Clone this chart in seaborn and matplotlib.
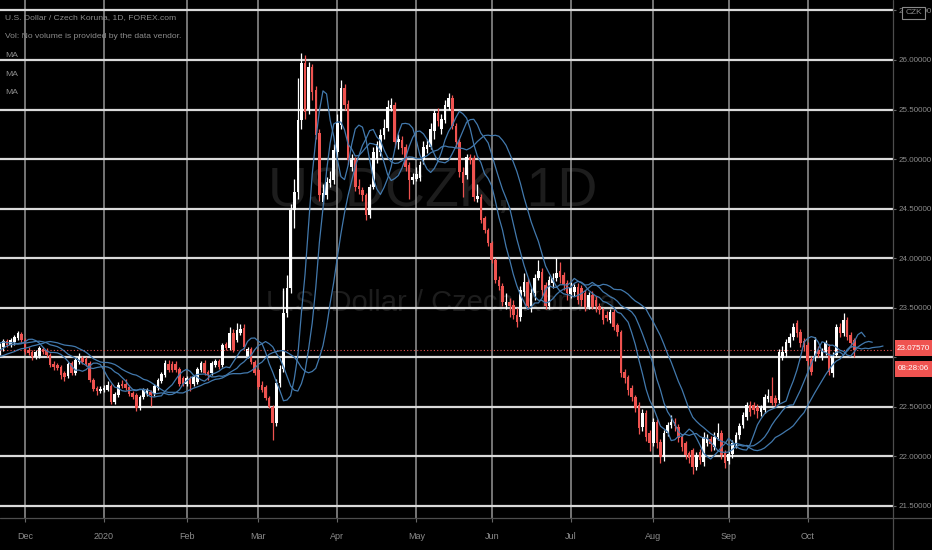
"""
USD/CZK 日足チャートの再現 (2019-11 〜 2020-10, FOREX.com)
"""
import numpy as np
import pandas as pd
import matplotlib
matplotlib.use("Agg")
import matplotlib.pyplot as plt
from matplotlib import font_manager
from matplotlib.lines import Line2D
from matplotlib.patches import Rectangle
import seaborn as sns

# 日足 OHLC (2019-11-21 からの営業日)
open_ = [
    23.04, 23.10, 23.16, 23.12, 23.15, 23.19, 23.23, 23.17, 23.07, 23.05,
    23.00, 23.01, 23.08, 23.07, 23.02, 22.93, 22.92, 22.90, 22.84, 22.81,
    22.94, 22.84, 22.95, 22.99, 22.98, 22.94, 22.77, 22.69, 22.66, 22.67,
    22.67, 22.71, 22.55, 22.62, 22.73, 22.73, 22.70, 22.64, 22.62, 22.48,
    22.60, 22.63, 22.65, 22.63, 22.69, 22.76, 22.82, 22.93, 22.93, 22.93,
    22.88, 22.79, 22.73, 22.79, 22.73, 22.75, 22.87, 22.94, 22.85, 22.84,
    22.92, 22.96, 22.92, 23.13, 23.09, 23.24, 23.17, 23.24, 23.29, 23.01,
    23.08, 22.95, 22.87, 22.72, 22.70, 22.59, 22.50, 22.33, 22.74, 22.88,
    23.44, 23.70, 24.48, 24.67, 25.39, 25.97, 25.50, 25.93, 25.70, 25.26,
    24.57, 24.64, 24.76, 24.79, 25.07, 25.34, 25.72, 25.56, 24.92, 24.99,
    24.73, 24.69, 24.64, 24.43, 24.72, 25.00, 25.07, 25.24, 25.31, 25.52,
    25.55, 25.17, 25.19, 25.12, 24.94, 24.79, 24.80, 24.81, 24.99, 25.10,
    25.12, 25.28, 25.46, 25.30, 25.39, 25.53, 25.62, 25.33, 25.17, 24.87,
    24.84, 25.02, 25.01, 24.60, 24.62, 24.40, 24.28, 24.15, 23.98, 23.78,
    23.72, 23.53, 23.56, 23.53, 23.42, 23.40, 23.66, 23.76, 23.52, 23.65,
    23.80, 23.86, 23.73, 23.52, 23.75, 23.80, 23.87, 23.83, 23.75, 23.64,
    23.66, 23.71, 23.70, 23.65, 23.51, 23.63, 23.58, 23.52, 23.48, 23.42,
    23.37, 23.45, 23.32, 23.25, 22.85, 22.80, 22.69, 22.60, 22.52, 22.29,
    22.43, 22.23, 22.13, 22.34, 22.14, 21.99, 22.23, 22.31, 22.34, 22.29,
    22.19, 22.13, 22.03, 22.06, 21.89, 22.04, 21.94, 22.13, 22.17, 22.09,
    22.19, 22.23, 22.03, 21.95, 22.02, 22.12, 22.21, 22.31, 22.39, 22.52,
    22.52, 22.50, 22.44, 22.46, 22.58, 22.61, 22.59, 22.57, 22.99, 23.04,
    23.14, 23.20, 23.34, 23.25, 23.16, 23.12, 22.98, 22.99, 23.07, 23.00,
    23.05, 23.10, 22.84, 23.02, 23.30, 23.24, 23.37, 23.22, 23.17,
]
high = [
    23.14, 23.18, 23.18, 23.19, 23.22, 23.26, 23.25, 23.19, 23.10, 23.07,
    23.07, 23.11, 23.10, 23.09, 23.04, 22.96, 22.94, 22.92, 22.86, 22.95,
    22.96, 22.99, 23.04, 23.01, 23.00, 22.96, 22.79, 22.71, 22.71, 22.72,
    22.76, 22.73, 22.65, 22.75, 22.77, 22.78, 22.72, 22.66, 22.64, 22.62,
    22.69, 22.69, 22.67, 22.73, 22.79, 22.85, 22.97, 22.97, 22.96, 22.96,
    22.90, 22.81, 22.81, 22.81, 22.82, 22.90, 22.96, 22.97, 22.87, 22.96,
    22.98, 22.98, 23.14, 23.15, 23.30, 23.28, 23.34, 23.33, 23.33, 23.10,
    23.10, 22.97, 22.89, 22.76, 22.72, 22.61, 22.52, 22.78, 22.92, 23.70,
    23.83, 24.55, 24.80, 25.82, 26.07, 26.05, 25.98, 25.96, 25.74, 25.30,
    24.75, 24.82, 24.88, 25.15, 25.45, 25.80, 25.76, 25.60, 25.05, 25.02,
    24.80, 24.72, 24.66, 24.75, 25.12, 25.18, 25.30, 25.40, 25.60, 25.62,
    25.58, 25.25, 25.23, 25.15, 24.97, 24.86, 24.92, 24.98, 25.18, 25.20,
    25.36, 25.50, 25.52, 25.45, 25.60, 25.67, 25.65, 25.36, 25.20, 24.92,
    25.05, 25.05, 25.04, 24.75, 24.65, 24.42, 24.30, 24.17, 24.00, 23.82,
    23.75, 23.65, 23.60, 23.58, 23.50, 23.72, 23.85, 23.80, 23.70, 23.84,
    23.98, 23.90, 23.76, 23.82, 23.85, 24.00, 23.96, 23.86, 23.78, 23.76,
    23.74, 23.75, 23.73, 23.68, 23.66, 23.67, 23.62, 23.55, 23.50, 23.46,
    23.48, 23.48, 23.34, 23.27, 22.88, 22.82, 22.72, 22.62, 22.55, 22.47,
    22.46, 22.26, 22.38, 22.37, 22.17, 22.26, 22.34, 22.41, 22.38, 22.32,
    22.22, 22.15, 22.05, 22.08, 22.04, 22.07, 22.24, 22.22, 22.20, 22.24,
    22.33, 22.26, 22.06, 22.05, 22.16, 22.24, 22.33, 22.44, 22.55, 22.56,
    22.55, 22.53, 22.52, 22.63, 22.68, 22.80, 22.62, 23.08, 23.11, 23.18,
    23.24, 23.34, 23.37, 23.28, 23.19, 23.15, 23.01, 23.20, 23.11, 23.09,
    23.17, 23.13, 23.05, 23.33, 23.34, 23.44, 23.40, 23.25, 23.19,
]
low = [
    23.02, 23.06, 23.10, 23.10, 23.12, 23.17, 23.15, 23.03, 23.02, 22.97,
    22.98, 22.99, 23.03, 23.00, 22.90, 22.87, 22.87, 22.78, 22.76, 22.79,
    22.82, 22.82, 22.93, 22.93, 22.91, 22.75, 22.66, 22.62, 22.64, 22.65,
    22.66, 22.53, 22.53, 22.60, 22.69, 22.67, 22.61, 22.58, 22.45, 22.46,
    22.58, 22.61, 22.51, 22.61, 22.67, 22.74, 22.80, 22.85, 22.85, 22.85,
    22.71, 22.71, 22.71, 22.66, 22.71, 22.73, 22.85, 22.82, 22.77, 22.82,
    22.90, 22.88, 22.90, 23.07, 23.07, 23.05, 23.15, 23.22, 23.08, 22.99,
    22.93, 22.82, 22.68, 22.65, 22.57, 22.48, 22.16, 22.30, 22.70, 22.85,
    23.40, 23.65, 24.30, 24.60, 25.30, 25.40, 25.45, 25.60, 25.20, 24.58,
    24.55, 24.60, 24.72, 24.75, 25.02, 25.30, 25.50, 24.95, 24.88, 24.68,
    24.65, 24.58, 24.38, 24.40, 24.70, 24.96, 25.03, 25.20, 25.28, 25.48,
    25.12, 25.10, 25.05, 24.88, 24.60, 24.75, 24.78, 24.78, 24.95, 25.06,
    25.10, 25.20, 25.33, 25.25, 25.36, 25.50, 25.30, 25.12, 24.82, 24.62,
    24.80, 24.95, 24.58, 24.57, 24.35, 24.25, 24.12, 23.95, 23.75, 23.68,
    23.52, 23.48, 23.40, 23.38, 23.30, 23.36, 23.62, 23.48, 23.45, 23.58,
    23.78, 23.62, 23.48, 23.48, 23.70, 23.77, 23.75, 23.68, 23.58, 23.60,
    23.62, 23.54, 23.52, 23.46, 23.48, 23.48, 23.45, 23.43, 23.33, 23.36,
    23.34, 23.27, 23.21, 22.80, 22.74, 22.62, 22.56, 22.44, 22.22, 22.25,
    22.15, 22.05, 22.10, 22.08, 21.93, 21.95, 22.20, 22.28, 22.25, 22.14,
    22.05, 21.97, 21.93, 21.82, 21.86, 21.92, 21.90, 22.10, 22.05, 22.06,
    22.16, 21.97, 21.88, 21.92, 21.98, 22.08, 22.17, 22.28, 22.36, 22.40,
    22.42, 22.38, 22.40, 22.43, 22.55, 22.52, 22.50, 22.54, 22.97, 23.00,
    23.10, 23.17, 23.20, 23.10, 23.06, 22.92, 22.82, 22.96, 23.00, 22.97,
    23.02, 22.82, 22.80, 23.00, 23.20, 23.21, 23.17, 23.10, 23.00,
]
close = [
    23.12, 23.16, 23.12, 23.17, 23.20, 23.24, 23.17, 23.05, 23.04, 23.00,
    23.05, 23.09, 23.05, 23.02, 22.92, 22.90, 22.89, 22.82, 22.80, 22.93,
    22.84, 22.97, 23.00, 22.95, 22.93, 22.77, 22.68, 22.66, 22.68, 22.69,
    22.72, 22.55, 22.63, 22.72, 22.71, 22.69, 22.63, 22.60, 22.48, 22.60,
    22.67, 22.67, 22.62, 22.71, 22.77, 22.83, 22.94, 22.87, 22.87, 22.87,
    22.73, 22.73, 22.79, 22.73, 22.80, 22.88, 22.94, 22.84, 22.82, 22.94,
    22.96, 22.90, 23.12, 23.09, 23.24, 23.07, 23.27, 23.28, 23.10, 23.08,
    22.95, 22.84, 22.70, 22.67, 22.59, 22.50, 22.33, 22.74, 22.88, 23.44,
    23.70, 24.48, 24.67, 25.39, 25.97, 25.47, 25.93, 25.68, 25.24, 24.64,
    24.66, 24.77, 24.80, 25.09, 25.36, 25.72, 25.55, 24.99, 24.99, 24.72,
    24.70, 24.64, 24.43, 24.72, 25.07, 25.15, 25.24, 25.31, 25.53, 25.55,
    25.17, 25.20, 25.11, 24.92, 24.79, 24.82, 24.85, 24.94, 25.12, 25.14,
    25.30, 25.46, 25.38, 25.40, 25.55, 25.62, 25.33, 25.17, 24.87, 24.76,
    25.02, 24.99, 24.62, 24.63, 24.38, 24.28, 24.15, 23.98, 23.78, 23.72,
    23.56, 23.56, 23.52, 23.42, 23.35, 23.68, 23.76, 23.52, 23.65, 23.80,
    23.87, 23.68, 23.52, 23.78, 23.80, 23.85, 23.81, 23.73, 23.65, 23.70,
    23.71, 23.58, 23.58, 23.51, 23.63, 23.51, 23.52, 23.47, 23.37, 23.39,
    23.45, 23.30, 23.25, 22.84, 22.79, 22.67, 22.60, 22.48, 22.28, 22.43,
    22.19, 22.13, 22.34, 22.13, 21.99, 22.23, 22.31, 22.34, 22.30, 22.18,
    22.09, 22.01, 21.98, 21.89, 22.01, 21.96, 22.19, 22.17, 22.12, 22.19,
    22.23, 22.01, 21.93, 22.02, 22.13, 22.21, 22.30, 22.41, 22.52, 22.44,
    22.46, 22.45, 22.49, 22.60, 22.61, 22.54, 22.54, 23.05, 23.05, 23.15,
    23.20, 23.30, 23.24, 23.14, 23.10, 22.96, 22.85, 23.17, 23.03, 23.06,
    23.14, 22.85, 23.02, 23.30, 23.24, 23.37, 23.20, 23.14, 23.0757,
]

# 画面左外の終値 (移動平均の立ち上がり用)
warmup_close = [
    22.98, 22.95, 22.97, 23.00, 22.96, 22.99, 23.03, 23.01, 22.98, 23.02,
    23.05, 23.08, 23.06, 23.10, 23.14, 23.12, 23.16, 23.19, 23.15, 23.10,
]

ma_lengths = [5, 8, 13]
ma_offsets = [3, 5, 8]
price_ticks = [21.5, 22.0, 22.5, 23.0, 23.5, 24.0, 24.5, 25.0, 25.5, 26.0, 26.5]
hidden_tick = 23.0  # 現在値ラベルに隠れる目盛
last_price = 23.0757
countdown = "08:28:06"
legend_lines = [
    "U.S. Dollar / Czech Koruna, 1D, FOREX.com",
    "Vol: No volume is provided by the data vendor.",
    "MA",
    "MA",
    "MA",
]

W, H = 932, 550
UP = "#ffffff"
DOWN = "#ef5350"
MA_COLOR = "#4279ad"
TEXT = "#8c8c8c"

sns.set_theme(style="dark", rc={"axes.facecolor": "black", "figure.facecolor": "black"})
available = {f.name for f in font_manager.fontManager.ttflist}
narrow = "Liberation Sans Narrow" if "Liberation Sans Narrow" in available else "Liberation Sans"
plt.rcParams["font.family"] = [narrow, "DejaVu Sans"]

df = pd.DataFrame({"open": open_, "high": high, "low": low, "close": close})
df["pos"] = np.arange(len(df))
dates = pd.bdate_range("2019-11-21", periods=len(df))

fig = plt.figure(figsize=(W / 100, H / 100), dpi=100, facecolor="black")
ax = fig.add_axes([0, 32 / H, 893 / W, 518 / H])
ax.set_facecolor("black")

# 透かし文字
ax.text(433 / 893, 1 - 192 / 518, "USDCZK, 1D", transform=ax.transAxes,
        ha="center", va="center", fontsize=40, color="#1d1d1d", zorder=0.2)
ax.text(441 / 893, 1 - 303 / 518, "U.S. Dollar / Czech Koruna", transform=ax.transAxes,
        ha="center", va="center", fontsize=21, color="#1d1d1d", zorder=0.2)

# ローソク足
up = df["close"] >= df["open"]
colors = np.where(up, UP, DOWN)
ax.vlines(df["pos"], df["low"], df["high"], colors=colors, lw=0.9, zorder=2)
body = (df["close"] - df["open"]).abs().clip(lower=0.012)
bottom = np.minimum(df["open"], df["close"])
ax.bar(df["pos"], body, bottom=bottom, width=0.72, color=colors, lw=0, zorder=2.1)

# 移動平均 (右へずらした3本)
n_pre = len(warmup_close)
all_close = pd.Series(warmup_close + close, index=np.arange(-n_pre, len(close)))
for length, offset in zip(ma_lengths, ma_offsets):
    ma = all_close.rolling(length).mean().dropna()
    ma_df = pd.DataFrame({"pos": ma.index + offset, "ma": ma.values})
    ma_df = ma_df[ma_df["pos"] >= -1]
    sns.lineplot(data=ma_df, x="pos", y="ma", ax=ax, color=MA_COLOR, lw=0.9,
                 estimator=None, sort=False, zorder=3)

# 現在値ライン
ax.axhline(last_price, color=DOWN, lw=0.8, ls=(0, (1, 2)), zorder=2.5)

# 軸・グリッド
ax.set_xlim(0.036, 248.78)
ax.set_ylim(21.374, 26.606)
month_pos = [i for i in range(1, len(dates)) if dates[i].month != dates[i - 1].month]
month_lab = ["2020" if dates[i].month == 1 else dates[i].strftime("%b") for i in month_pos]
ax.set_xticks(month_pos)
ax.set_xticklabels(month_lab)
ax.set_yticks(price_ticks)
ax.set_yticklabels(["" if t == hidden_tick else f"{t:.5f}" for t in price_ticks])
ax.set_xlabel("")
ax.set_ylabel("")
ax.set_axisbelow(True)
ax.yaxis.grid(True, color="#dadada", lw=1.6)
ax.xaxis.grid(True, color="#8a8a8a", lw=1.2)
ax.yaxis.tick_right()
ax.tick_params(axis="y", right=True, left=False, labelright=True, labelleft=False,
               length=2.5, width=0.8, color="#666666", labelcolor=TEXT, labelsize=5.8, pad=1.2)
ax.tick_params(axis="x", bottom=True, length=3, width=0.8, color="#666666",
               labelcolor=TEXT, labelsize=6.5, pad=7)
for s in ax.spines.values():
    s.set_visible(False)

# 区切り線
fig.add_artist(Line2D([893 / W, 893 / W], [0, 1], color="#4d4d4d", lw=0.9))
fig.add_artist(Line2D([0, 1], [32 / H, 32 / H], color="#4d4d4d", lw=0.9))

# 左上の凡例
for k, txt in enumerate(legend_lines):
    fig.text(5 / W, 1 - (18 + 18.7 * k) / H, txt, ha="left", va="center",
             fontsize=6.1, color=TEXT)

# 右側のラベル
fig.text(913.5 / W, 1 - 13 / H, "CZK", ha="center", va="center", fontsize=6, color=TEXT,
         bbox=dict(boxstyle="square,pad=0.35", fc="black", ec="#8a8a8a", lw=0.8), zorder=5)
for top, txt in [(340, f"{last_price:.5f}"), (361, countdown)]:
    fig.add_artist(Rectangle((895 / W, 1 - (top + 16) / H), 37 / W, 16 / H,
                             transform=fig.transFigure, fc=DOWN, ec="none", zorder=4))
    fig.text(913.5 / W, 1 - (top + 8) / H, txt, ha="center", va="center", fontsize=5.8,
             color="white", zorder=5)

fig.savefig("out.png", dpi=100, facecolor="black")
